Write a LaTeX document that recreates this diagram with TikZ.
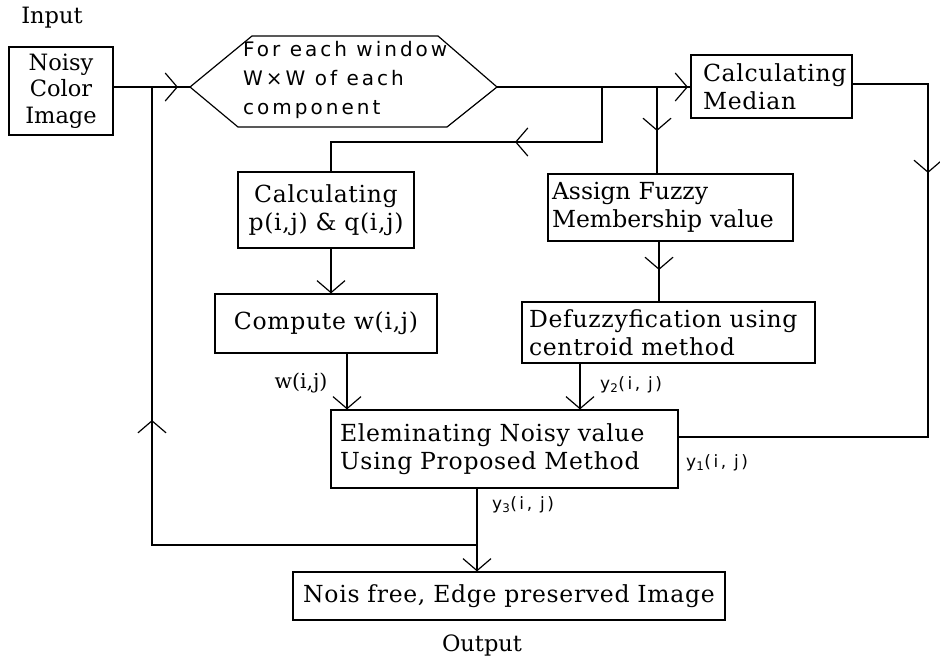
\documentclass[tikz,border=0pt]{standalone}
\usepackage{fontspec}
\usetikzlibrary{arrows.meta,calc}
\newfontfamily\bodyfont[LetterSpace=3]{DejaVu Serif}
\newfontfamily\plainfont{DejaVu Serif}
\newfontfamily\hexfont[LetterSpace=15]{DejaVu Sans}
\newfontfamily\lblfont[LetterSpace=15]{DejaVu Sans}
\tikzset{
  box/.style={draw, line width=1.2pt, inner ysep=0pt, font=\bodyfont\fontsize{23.5}{27.5}\selectfont},
  lbox/.style={box, align=left},
  cbox/.style={box, align=center},
  conn/.style={line width=1.2pt},
  arr/.style={line width=1.2pt, -{Straight Barb[length=12pt, width=28pt, line width=1.2pt]}},
  txt/.style={inner sep=0pt, font=\plainfont\fontsize{22.5}{27}\selectfont},
  lbl/.style={inner sep=0pt, font=\lblfont\fontsize{17}{20}\selectfont},
}
\begin{document}
\begin{tikzpicture}[x=1pt, y=-1pt]
\useasboundingbox (0,0) rectangle (940,659);
% nodes
\node[txt] (input) at (52,18) {Input};
\node[cbox, font=\plainfont\fontsize{22.5}{26.5}\selectfont, minimum width=104pt, minimum height=88pt, text width=94pt, inner xsep=5pt] (noisy) at (61,91) {Noisy\\Color\\Image};
% hexagon
\coordinate (hexL) at (190,87);
\coordinate (hexR) at (497,87);
\draw[conn] (hexL) -- (252,36) -- (438,36) -- (hexR) -- (447,127) -- (238,127) -- cycle;
\node[anchor=west, inner sep=0pt, align=left, font=\hexfont\fontsize{20}{29}\selectfont] (hextext) at (243,80) {For each window\\W×W of each\\component};
\node[lbox, minimum width=161pt, minimum height=63pt, text width=137pt, inner xsep=12pt] (med) at (771.5,86.5) {Calculating\\Median};
\node[cbox, minimum width=176pt, minimum height=76pt, text width=168pt, inner xsep=4pt] (calcp) at (326,210) {Calculating\\p(i,j) \& q(i,j)};
\node[cbox, minimum width=222pt, minimum height=59pt, text width=206pt, inner xsep=8pt] (comp) at (326,323.5) {Compute w(i,j)};
\node[lbox, font=\plainfont\fontsize{23.5}{28}\selectfont, minimum width=245pt, minimum height=67pt, text width=237pt, inner xsep=4pt] (assign) at (670.5,207.5) {Assign Fuzzy\\Membership value};
\node[lbox, minimum width=293pt, minimum height=61pt, text width=279pt, inner xsep=7pt] (defuzz) at (668.5,332.5) {Defuzzyfication using\\centroid method};
\node[lbox, minimum width=347pt, minimum height=78pt, text width=329pt, inner xsep=9pt] (elim) at (504.5,449) {Eleminating Noisy value\\Using Proposed Method};
\node[cbox, minimum width=432pt, minimum height=48pt, text width=420pt, inner xsep=6pt] (out) at (509,596) {Nois free, Edge preserved Image};
\node[txt] (output) at (482,645) {Output};
% junctions and bends
\coordinate (j1) at (602,87);
\coordinate (j2) at (657,87);
\coordinate (b1) at (602,142);
\coordinate (b2) at (331,142);
\coordinate (m1) at (515,142);
\coordinate (m2) at (657,131);
\coordinate (c1) at (928,84);
\coordinate (c2) at (928,437);
\coordinate (m3) at (928,173);
\coordinate (j3) at (477,545);
\coordinate (f1) at (152,545);
\coordinate (f2) at (152,87);
\coordinate (m4) at (152,420);
\coordinate (m5) at (659,270);
\coordinate (ain) at (178,87);
\coordinate (amed) at (688,87);
% connectors
\draw[conn] (noisy.east |- hexL) -- (hexL);
\draw[arr] (noisy.east |- hexL) -- (ain);
\draw[conn] (hexR) -- (med.west |- hexR);
\draw[arr] (hexR) -- (amed);
\draw[conn] (j1) -- (b1) -- (b2) -- (b2 |- calcp.north);
\draw[arr] (b1) -- (m1);
\draw[conn] (j2) -- (j2 |- assign.north);
\draw[arr] (j2) -- (m2);
\draw[conn] (med.east |- c1) -- (c1) -- (c2) -- (elim.east |- c2);
\draw[arr] (c1) -- (m3);
\draw[arr] (b2 |- calcp.south) -- (b2 |- comp.north);
\draw[arr] (347,0 |- comp.south) -- (347,0 |- elim.north);
\draw[conn] (659,0 |- assign.south) -- (659,0 |- defuzz.north);
\draw[arr] (659,0 |- assign.south) -- (m5);
\draw[arr] (580,0 |- defuzz.south) -- (580,0 |- elim.north);
\draw[arr] (477,0 |- elim.south) -- (477,0 |- out.north);
\draw[conn] (j3) -- (f1) -- (f2);
\draw[arr] (f1) -- (m4);
% labels
\node[txt, font=\plainfont\fontsize{20.5}{24}\selectfont] (lw) at (301,383) {w(i,j)};
\node[lbl, anchor=west] (ly2) at (600,385) {y\textsubscript{2}(i, j)};
\node[lbl, anchor=west] (ly1) at (686,463) {y\textsubscript{1}(i, j)};
\node[lbl, anchor=west] (ly3) at (492,505) {y\textsubscript{3}(i, j)};
\end{tikzpicture}
\end{document}
